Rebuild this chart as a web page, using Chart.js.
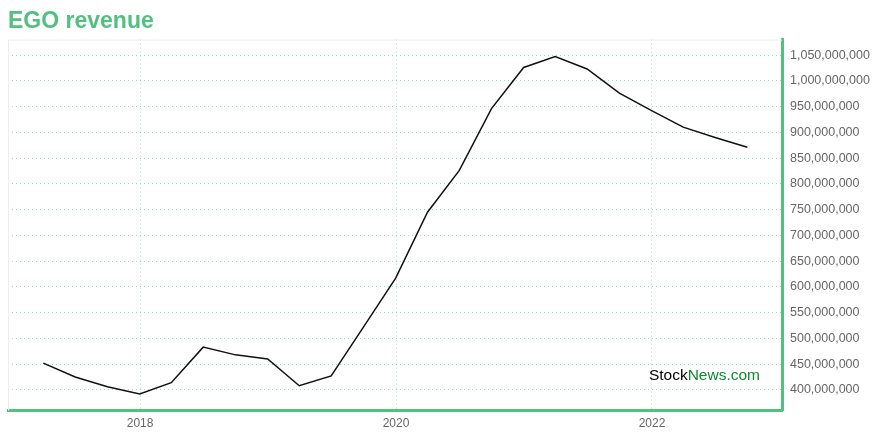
<!DOCTYPE html>
<html>
<head>
<meta charset="utf-8">
<script src="https://cdn.jsdelivr.net/npm/chart.js@4/dist/chart.umd.min.js"></script>
<style>
  html, body { margin: 0; padding: 0; background: #fff; }
  #wrap { width: 880px; height: 440px; }
</style>
</head>
<body>
<div id="wrap"><canvas id="rev"></canvas></div>
<script>
const quarters = ['2017-03-31','2017-06-30','2017-09-30','2017-12-31','2018-03-31','2018-06-30','2018-09-30','2018-12-31',
                  '2019-03-31','2019-06-30','2019-09-30','2019-12-31','2020-03-31','2020-06-30','2020-09-30','2020-12-31',
                  '2021-03-31','2021-06-30','2021-09-30','2021-12-31','2022-03-31','2022-06-30','2022-09-30'];
// revenue in millions
const revenue = [452, 425, 406, 392, 414, 483, 468, 460, 408, 427, 522, 617,
                 745, 826, 946, 1026, 1047, 1023, 976, 942, 910, 890, 871];
const yearTicks = [2018, 2020, 2022];
const revenueTicks = [400, 450, 500, 550, 600, 650, 700, 750, 800, 850, 900, 950, 1000, 1050];

const GREEN = '#52c07f';
const GRID = 'rgba(80,190,130,0.55)';

function decYear(s) {
    const d = new Date(s + 'T00:00:00Z');
    const y = d.getUTCFullYear();
    const a = Date.UTC(y, 0, 1), b = Date.UTC(y + 1, 0, 1);
    return y + (d.getTime() - a) / (b - a);
}

Chart.defaults.font.family = 'Arial, "Liberation Sans", Helvetica, sans-serif';

const frame = {
    id: 'frame',
    beforeDatasetsDraw(chart) {
        const {ctx, chartArea: a} = chart;
        ctx.save();
        ctx.strokeStyle = '#ececec';
        ctx.lineWidth = 1;
        ctx.beginPath();
        ctx.moveTo(a.left + 0.5, a.bottom);
        ctx.lineTo(a.left + 0.5, a.top + 0.5);
        ctx.lineTo(a.right, a.top + 0.5);
        ctx.stroke();
        ctx.restore();
    },
    afterDraw(chart) {
        const {ctx, chartArea: a} = chart;
        ctx.save();
        ctx.font = '15.5px Arial, "Liberation Sans", sans-serif';
        ctx.textBaseline = 'alphabetic';
        const w1 = ctx.measureText('Stock').width;
        const w2 = ctx.measureText('News.com').width;
        const x = a.right - 22 - w1 - w2;
        const y = a.bottom - 31;
        ctx.fillStyle = '#000';
        ctx.fillText('Stock', x, y);
        ctx.fillStyle = '#0a8a2a';
        ctx.fillText('News.com', x + w1, y);
        ctx.restore();
    }
};

const cht = document.getElementById('rev').getContext('2d');
const chart = new Chart(cht, {
    type: 'line',
    data: {
        datasets: [{
            label: 'Revenue',
            data: quarters.map((q, i) => ({x: decYear(q), y: revenue[i] * 1e6})),
            borderColor: '#111',
            borderWidth: 1.5,
            pointRadius: 0,
            tension: 0,
            fill: false
        }]
    },
    options: {
        responsive: true,
        maintainAspectRatio: false,
        animation: false,
        layout: { padding: { left: 8, right: 0, top: 0, bottom: 0 } },
        plugins: {
            legend: { display: false },
            tooltip: { enabled: false },
            title: {
                display: true,
                text: 'EGO revenue',
                align: 'start',
                color: GREEN,
                font: { size: 23, weight: 'bold' },
                padding: { top: 8, bottom: 4 }
            }
        },
        scales: {
            x: {
                type: 'linear',
                position: 'bottom',
                min: 2016.968,
                max: 2023.016,
                afterBuildTicks: s => { s.ticks = yearTicks.map(v => ({value: v})); },
                afterFit: s => { s.height = 29.5; },
                ticks: {
                    color: '#666',
                    font: { size: 12 },
                    padding: 6,
                    callback: v => String(v)
                },
                grid: { color: GRID, lineWidth: 1, drawTicks: false },
                border: { display: true, color: GREEN, width: 3, dash: [1, 3] }
            },
            y: {
                position: 'right',
                min: 360e6,
                max: 1080e6,
                afterBuildTicks: s => { s.ticks = revenueTicks.map(v => ({value: v * 1e6})); },
                afterFit: s => { s.width = 98; },
                ticks: {
                    color: '#666',
                    font: { size: 12.5 },
                    padding: 8,
                    callback: v => Number(v).toLocaleString('en-US')
                },
                grid: { color: GRID, lineWidth: 1, drawTicks: false },
                border: { display: true, color: GREEN, width: 3, dash: [1, 3] }
            }
        }
    },
    plugins: [frame]
});
</script>
</body>
</html>
